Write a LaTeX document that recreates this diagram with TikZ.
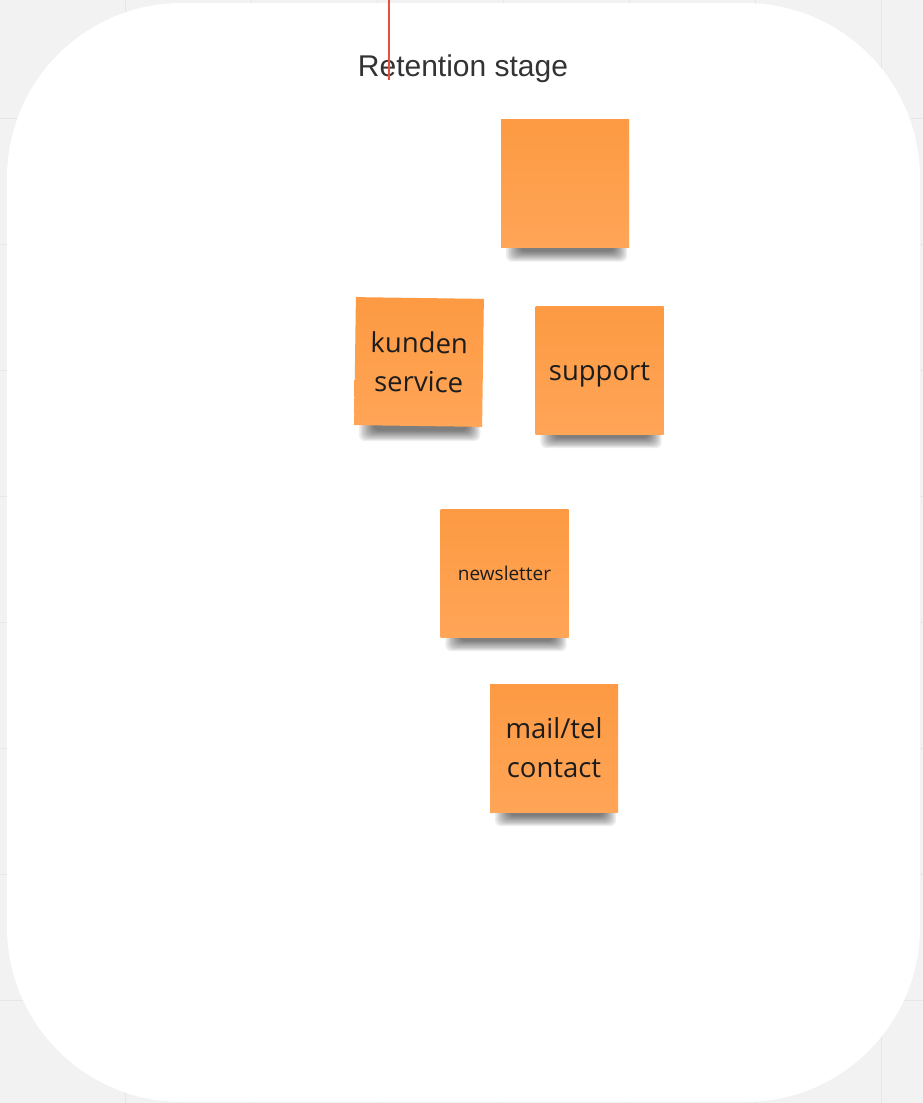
\documentclass[tikz,border=0pt]{standalone}
\usepackage{fontspec}
\setmainfont{Open Sans}
\newfontfamily\titlefont{Liberation Sans}

\definecolor{canvasgrey}{HTML}{F2F2F2}
\definecolor{gridgrey}{HTML}{E6E6E6}
\definecolor{noteorange}{HTML}{FD9A43}
\definecolor{notelight}{HTML}{FFA557}
\definecolor{titlegrey}{HTML}{333333}
\definecolor{cursorred}{HTML}{E8503C}
\definecolor{inkblack}{HTML}{1C1C1C}

\pgfdeclarelayer{canvaslayer}
\pgfdeclarelayer{shadelayer}
\pgfsetlayers{canvaslayer,shadelayer,main}

\tikzset{
  gridline/.style={draw=gridgrey, line width=1pt},
  frame/.style={fill=white, rounded corners=175pt},
  sticky/.style={
    minimum width=128pt, minimum height=128pt, inner sep=0pt,
    top color=noteorange, bottom color=notelight,
    align=center, text=inkblack,
    font=\fontsize{27.5}{39}\selectfont},
  smallsticky/.style={sticky, font=\fontsize{19}{24}\selectfont},
  stagetitle/.style={font=\titlefont\fontsize{30}{35}\selectfont,
    text=titlegrey, inner sep=0pt, anchor=base},
  redmark/.style={color=cursorred, line width=1.1pt},
  shadestep/.style={fill=black, opacity=0.065, rounded corners=6pt},
}

% soft shadow under the lower edge of a note, built from stacked translucent bands
\newcommand{\castshadow}[1]{%
  \begin{pgfonlayer}{shadelayer}
    \foreach \k in {0,...,9}{
      \fill[shadestep]
        ([xshift={5pt+1.6*\k pt}, yshift=6pt]#1.south west) rectangle
        ([xshift={-2pt-1.4*\k pt}, yshift={-14pt+1.15*\k pt}]#1.south east);
    }
  \end{pgfonlayer}}

\begin{document}
\begin{tikzpicture}[x=1pt, y=-1pt]
  \useasboundingbox (0,0) rectangle (923,1103);

  \begin{pgfonlayer}{canvaslayer}
    % canvas with its faint grid
    \fill[canvasgrey] (0,0) rectangle (923,1103);
    \foreach \gx in {125,251,377,503,629,755,881}
      \draw[gridline] (\gx,0) -- (\gx,1103);
    \foreach \gy in {118,244,370,496,622,748,874,1000}
      \draw[gridline] (0,\gy) -- (923,\gy);
    % stage frame
    \path[frame] (7,3) rectangle (920,1102);
  \end{pgfonlayer}

  % stage heading
  \node[stagetitle] (title) at (463,76) {Retention stage};

  % red line across the heading
  \coordinate (marktop) at (389,0);
  \coordinate (markbottom) at (389,80);
  \draw[redmark] (marktop) -- (markbottom);

  % sticky notes
  \node[sticky] (blank) at (565,183.5) {};
  \node[sticky, rotate=-0.8] (kunden) at (419,362) {kunden\\service};
  \node[sticky] (support) at (599.5,370) {\raisebox{-10.5pt}[0pt][0pt]{support}};
  \node[smallsticky] (news) at (504.5,573) {newsletter};
  \node[sticky] (contact) at (554,748) {mail/tel\\contact};

  \castshadow{blank}
  \castshadow{kunden}
  \castshadow{support}
  \castshadow{news}
  \castshadow{contact}
\end{tikzpicture}
\end{document}
